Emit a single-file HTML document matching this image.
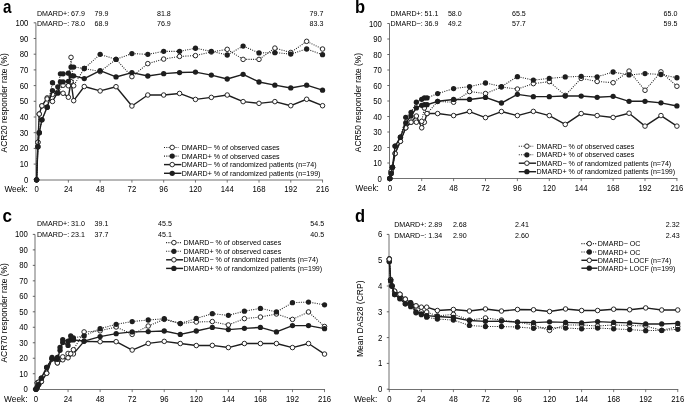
<!DOCTYPE html>
<html><head><meta charset="utf-8"><style>
html,body{margin:0;padding:0;background:#fff;width:685px;height:403px;overflow:hidden}
svg{display:block;font-family:"Liberation Sans", sans-serif;will-change:transform}
</style></head><body>
<svg width="685" height="403" viewBox="0 0 685 403">
<rect width="685" height="403" fill="#fff"/>
<line x1="35.90" y1="22.80" x2="35.90" y2="180.50" stroke="#717171" stroke-width="1.0"/>
<line x1="35.40" y1="180.00" x2="323.04" y2="180.00" stroke="#717171" stroke-width="1.0"/>
<line x1="33.70" y1="179.80" x2="35.90" y2="179.80" stroke="#555" stroke-width="0.9"/>
<text transform="translate(28.30,182.80) scale(0.97,1.18)" font-size="8.0" text-anchor="end" font-weight="normal" fill="#000">0</text>
<line x1="33.70" y1="164.10" x2="35.90" y2="164.10" stroke="#555" stroke-width="0.9"/>
<text transform="translate(28.30,167.10) scale(0.97,1.18)" font-size="8.0" text-anchor="end" font-weight="normal" fill="#000">10</text>
<line x1="33.70" y1="148.40" x2="35.90" y2="148.40" stroke="#555" stroke-width="0.9"/>
<text transform="translate(28.30,151.40) scale(0.97,1.18)" font-size="8.0" text-anchor="end" font-weight="normal" fill="#000">20</text>
<line x1="33.70" y1="132.70" x2="35.90" y2="132.70" stroke="#555" stroke-width="0.9"/>
<text transform="translate(28.30,135.70) scale(0.97,1.18)" font-size="8.0" text-anchor="end" font-weight="normal" fill="#000">30</text>
<line x1="33.70" y1="117.00" x2="35.90" y2="117.00" stroke="#555" stroke-width="0.9"/>
<text transform="translate(28.30,120.00) scale(0.97,1.18)" font-size="8.0" text-anchor="end" font-weight="normal" fill="#000">40</text>
<line x1="33.70" y1="101.30" x2="35.90" y2="101.30" stroke="#555" stroke-width="0.9"/>
<text transform="translate(28.30,104.30) scale(0.97,1.18)" font-size="8.0" text-anchor="end" font-weight="normal" fill="#000">50</text>
<line x1="33.70" y1="85.60" x2="35.90" y2="85.60" stroke="#555" stroke-width="0.9"/>
<text transform="translate(28.30,88.60) scale(0.97,1.18)" font-size="8.0" text-anchor="end" font-weight="normal" fill="#000">60</text>
<line x1="33.70" y1="69.90" x2="35.90" y2="69.90" stroke="#555" stroke-width="0.9"/>
<text transform="translate(28.30,72.90) scale(0.97,1.18)" font-size="8.0" text-anchor="end" font-weight="normal" fill="#000">70</text>
<line x1="33.70" y1="54.20" x2="35.90" y2="54.20" stroke="#555" stroke-width="0.9"/>
<text transform="translate(28.30,57.20) scale(0.97,1.18)" font-size="8.0" text-anchor="end" font-weight="normal" fill="#000">80</text>
<line x1="33.70" y1="38.50" x2="35.90" y2="38.50" stroke="#555" stroke-width="0.9"/>
<text transform="translate(28.30,41.50) scale(0.97,1.18)" font-size="8.0" text-anchor="end" font-weight="normal" fill="#000">90</text>
<line x1="33.70" y1="22.80" x2="35.90" y2="22.80" stroke="#555" stroke-width="0.9"/>
<text transform="translate(28.30,25.80) scale(0.97,1.18)" font-size="8.0" text-anchor="end" font-weight="normal" fill="#000">100</text>
<line x1="36.60" y1="180.00" x2="36.60" y2="182.60" stroke="#555" stroke-width="0.8"/>
<text transform="translate(36.60,192.10) scale(0.97,1.18)" font-size="8.0" text-anchor="middle" font-weight="normal" fill="#000">0</text>
<line x1="68.37" y1="180.00" x2="68.37" y2="182.60" stroke="#555" stroke-width="0.8"/>
<text transform="translate(68.37,192.10) scale(0.97,1.18)" font-size="8.0" text-anchor="middle" font-weight="normal" fill="#000">24</text>
<line x1="100.14" y1="180.00" x2="100.14" y2="182.60" stroke="#555" stroke-width="0.8"/>
<text transform="translate(100.14,192.10) scale(0.97,1.18)" font-size="8.0" text-anchor="middle" font-weight="normal" fill="#000">48</text>
<line x1="131.91" y1="180.00" x2="131.91" y2="182.60" stroke="#555" stroke-width="0.8"/>
<text transform="translate(131.91,192.10) scale(0.97,1.18)" font-size="8.0" text-anchor="middle" font-weight="normal" fill="#000">72</text>
<line x1="163.68" y1="180.00" x2="163.68" y2="182.60" stroke="#555" stroke-width="0.8"/>
<text transform="translate(163.68,192.10) scale(0.97,1.18)" font-size="8.0" text-anchor="middle" font-weight="normal" fill="#000">96</text>
<line x1="195.46" y1="180.00" x2="195.46" y2="182.60" stroke="#555" stroke-width="0.8"/>
<text transform="translate(195.46,192.10) scale(0.97,1.18)" font-size="8.0" text-anchor="middle" font-weight="normal" fill="#000">120</text>
<line x1="227.23" y1="180.00" x2="227.23" y2="182.60" stroke="#555" stroke-width="0.8"/>
<text transform="translate(227.23,192.10) scale(0.97,1.18)" font-size="8.0" text-anchor="middle" font-weight="normal" fill="#000">144</text>
<line x1="259.00" y1="180.00" x2="259.00" y2="182.60" stroke="#555" stroke-width="0.8"/>
<text transform="translate(259.00,192.10) scale(0.97,1.18)" font-size="8.0" text-anchor="middle" font-weight="normal" fill="#000">168</text>
<line x1="290.77" y1="180.00" x2="290.77" y2="182.60" stroke="#555" stroke-width="0.8"/>
<text transform="translate(290.77,192.10) scale(0.97,1.18)" font-size="8.0" text-anchor="middle" font-weight="normal" fill="#000">192</text>
<line x1="322.54" y1="180.00" x2="322.54" y2="182.60" stroke="#555" stroke-width="0.8"/>
<text transform="translate(322.54,192.10) scale(0.97,1.18)" font-size="8.0" text-anchor="middle" font-weight="normal" fill="#000">216</text>
<text transform="translate(4.40,192.10) scale(1.04,1.18)" font-size="8.0" text-anchor="start" font-weight="normal" fill="#000">Week:</text>
<text x="0" y="0" font-size="8.4" text-anchor="middle" fill="#000" transform="translate(7.30,102.80) rotate(-90)">ACR20 responder rate (%)</text>
<line x1="389.50" y1="23.50" x2="389.50" y2="179.00" stroke="#717171" stroke-width="1.0"/>
<line x1="389.00" y1="178.50" x2="677.41" y2="178.50" stroke="#717171" stroke-width="1.0"/>
<line x1="387.30" y1="178.50" x2="389.50" y2="178.50" stroke="#555" stroke-width="0.9"/>
<text transform="translate(381.80,181.50) scale(0.97,1.18)" font-size="8.0" text-anchor="end" font-weight="normal" fill="#000">0</text>
<line x1="387.30" y1="163.00" x2="389.50" y2="163.00" stroke="#555" stroke-width="0.9"/>
<text transform="translate(381.80,166.00) scale(0.97,1.18)" font-size="8.0" text-anchor="end" font-weight="normal" fill="#000">10</text>
<line x1="387.30" y1="147.50" x2="389.50" y2="147.50" stroke="#555" stroke-width="0.9"/>
<text transform="translate(381.80,150.50) scale(0.97,1.18)" font-size="8.0" text-anchor="end" font-weight="normal" fill="#000">20</text>
<line x1="387.30" y1="132.00" x2="389.50" y2="132.00" stroke="#555" stroke-width="0.9"/>
<text transform="translate(381.80,135.00) scale(0.97,1.18)" font-size="8.0" text-anchor="end" font-weight="normal" fill="#000">30</text>
<line x1="387.30" y1="116.50" x2="389.50" y2="116.50" stroke="#555" stroke-width="0.9"/>
<text transform="translate(381.80,119.50) scale(0.97,1.18)" font-size="8.0" text-anchor="end" font-weight="normal" fill="#000">40</text>
<line x1="387.30" y1="101.00" x2="389.50" y2="101.00" stroke="#555" stroke-width="0.9"/>
<text transform="translate(381.80,104.00) scale(0.97,1.18)" font-size="8.0" text-anchor="end" font-weight="normal" fill="#000">50</text>
<line x1="387.30" y1="85.50" x2="389.50" y2="85.50" stroke="#555" stroke-width="0.9"/>
<text transform="translate(381.80,88.50) scale(0.97,1.18)" font-size="8.0" text-anchor="end" font-weight="normal" fill="#000">60</text>
<line x1="387.30" y1="70.00" x2="389.50" y2="70.00" stroke="#555" stroke-width="0.9"/>
<text transform="translate(381.80,73.00) scale(0.97,1.18)" font-size="8.0" text-anchor="end" font-weight="normal" fill="#000">70</text>
<line x1="387.30" y1="54.50" x2="389.50" y2="54.50" stroke="#555" stroke-width="0.9"/>
<text transform="translate(381.80,57.50) scale(0.97,1.18)" font-size="8.0" text-anchor="end" font-weight="normal" fill="#000">80</text>
<line x1="387.30" y1="39.00" x2="389.50" y2="39.00" stroke="#555" stroke-width="0.9"/>
<text transform="translate(381.80,42.00) scale(0.97,1.18)" font-size="8.0" text-anchor="end" font-weight="normal" fill="#000">90</text>
<line x1="387.30" y1="23.50" x2="389.50" y2="23.50" stroke="#555" stroke-width="0.9"/>
<text transform="translate(381.80,26.50) scale(0.97,1.18)" font-size="8.0" text-anchor="end" font-weight="normal" fill="#000">100</text>
<line x1="389.80" y1="178.50" x2="389.80" y2="181.10" stroke="#555" stroke-width="0.8"/>
<text transform="translate(389.80,191.00) scale(0.97,1.18)" font-size="8.0" text-anchor="middle" font-weight="normal" fill="#000">0</text>
<line x1="421.70" y1="178.50" x2="421.70" y2="181.10" stroke="#555" stroke-width="0.8"/>
<text transform="translate(421.70,191.00) scale(0.97,1.18)" font-size="8.0" text-anchor="middle" font-weight="normal" fill="#000">24</text>
<line x1="453.60" y1="178.50" x2="453.60" y2="181.10" stroke="#555" stroke-width="0.8"/>
<text transform="translate(453.60,191.00) scale(0.97,1.18)" font-size="8.0" text-anchor="middle" font-weight="normal" fill="#000">48</text>
<line x1="485.50" y1="178.50" x2="485.50" y2="181.10" stroke="#555" stroke-width="0.8"/>
<text transform="translate(485.50,191.00) scale(0.97,1.18)" font-size="8.0" text-anchor="middle" font-weight="normal" fill="#000">72</text>
<line x1="517.40" y1="178.50" x2="517.40" y2="181.10" stroke="#555" stroke-width="0.8"/>
<text transform="translate(517.40,191.00) scale(0.97,1.18)" font-size="8.0" text-anchor="middle" font-weight="normal" fill="#000">96</text>
<line x1="549.30" y1="178.50" x2="549.30" y2="181.10" stroke="#555" stroke-width="0.8"/>
<text transform="translate(549.30,191.00) scale(0.97,1.18)" font-size="8.0" text-anchor="middle" font-weight="normal" fill="#000">120</text>
<line x1="581.20" y1="178.50" x2="581.20" y2="181.10" stroke="#555" stroke-width="0.8"/>
<text transform="translate(581.20,191.00) scale(0.97,1.18)" font-size="8.0" text-anchor="middle" font-weight="normal" fill="#000">144</text>
<line x1="613.11" y1="178.50" x2="613.11" y2="181.10" stroke="#555" stroke-width="0.8"/>
<text transform="translate(613.11,191.00) scale(0.97,1.18)" font-size="8.0" text-anchor="middle" font-weight="normal" fill="#000">168</text>
<line x1="645.01" y1="178.50" x2="645.01" y2="181.10" stroke="#555" stroke-width="0.8"/>
<text transform="translate(645.01,191.00) scale(0.97,1.18)" font-size="8.0" text-anchor="middle" font-weight="normal" fill="#000">192</text>
<line x1="676.91" y1="178.50" x2="676.91" y2="181.10" stroke="#555" stroke-width="0.8"/>
<text transform="translate(676.91,191.00) scale(0.97,1.18)" font-size="8.0" text-anchor="middle" font-weight="normal" fill="#000">216</text>
<text transform="translate(355.50,191.00) scale(1.04,1.18)" font-size="8.0" text-anchor="start" font-weight="normal" fill="#000">Week:</text>
<text x="0" y="0" font-size="8.4" text-anchor="middle" fill="#000" transform="translate(361.20,102.60) rotate(-90)">ACR50 responder rate (%)</text>
<line x1="35.00" y1="234.40" x2="35.00" y2="390.00" stroke="#717171" stroke-width="1.0"/>
<line x1="34.50" y1="389.50" x2="325.03" y2="389.50" stroke="#717171" stroke-width="1.0"/>
<line x1="32.80" y1="389.20" x2="35.00" y2="389.20" stroke="#555" stroke-width="0.9"/>
<text transform="translate(27.90,392.20) scale(0.97,1.18)" font-size="8.0" text-anchor="end" font-weight="normal" fill="#000">0</text>
<line x1="32.80" y1="373.72" x2="35.00" y2="373.72" stroke="#555" stroke-width="0.9"/>
<text transform="translate(27.90,376.72) scale(0.97,1.18)" font-size="8.0" text-anchor="end" font-weight="normal" fill="#000">10</text>
<line x1="32.80" y1="358.24" x2="35.00" y2="358.24" stroke="#555" stroke-width="0.9"/>
<text transform="translate(27.90,361.24) scale(0.97,1.18)" font-size="8.0" text-anchor="end" font-weight="normal" fill="#000">20</text>
<line x1="32.80" y1="342.76" x2="35.00" y2="342.76" stroke="#555" stroke-width="0.9"/>
<text transform="translate(27.90,345.76) scale(0.97,1.18)" font-size="8.0" text-anchor="end" font-weight="normal" fill="#000">30</text>
<line x1="32.80" y1="327.28" x2="35.00" y2="327.28" stroke="#555" stroke-width="0.9"/>
<text transform="translate(27.90,330.28) scale(0.97,1.18)" font-size="8.0" text-anchor="end" font-weight="normal" fill="#000">40</text>
<line x1="32.80" y1="311.80" x2="35.00" y2="311.80" stroke="#555" stroke-width="0.9"/>
<text transform="translate(27.90,314.80) scale(0.97,1.18)" font-size="8.0" text-anchor="end" font-weight="normal" fill="#000">50</text>
<line x1="32.80" y1="296.32" x2="35.00" y2="296.32" stroke="#555" stroke-width="0.9"/>
<text transform="translate(27.90,299.32) scale(0.97,1.18)" font-size="8.0" text-anchor="end" font-weight="normal" fill="#000">60</text>
<line x1="32.80" y1="280.84" x2="35.00" y2="280.84" stroke="#555" stroke-width="0.9"/>
<text transform="translate(27.90,283.84) scale(0.97,1.18)" font-size="8.0" text-anchor="end" font-weight="normal" fill="#000">70</text>
<line x1="32.80" y1="265.36" x2="35.00" y2="265.36" stroke="#555" stroke-width="0.9"/>
<text transform="translate(27.90,268.36) scale(0.97,1.18)" font-size="8.0" text-anchor="end" font-weight="normal" fill="#000">80</text>
<line x1="32.80" y1="249.88" x2="35.00" y2="249.88" stroke="#555" stroke-width="0.9"/>
<text transform="translate(27.90,252.88) scale(0.97,1.18)" font-size="8.0" text-anchor="end" font-weight="normal" fill="#000">90</text>
<line x1="32.80" y1="234.40" x2="35.00" y2="234.40" stroke="#555" stroke-width="0.9"/>
<text transform="translate(27.90,237.40) scale(0.97,1.18)" font-size="8.0" text-anchor="end" font-weight="normal" fill="#000">100</text>
<line x1="36.00" y1="389.50" x2="36.00" y2="392.10" stroke="#555" stroke-width="0.8"/>
<text transform="translate(36.00,401.80) scale(0.97,1.18)" font-size="8.0" text-anchor="middle" font-weight="normal" fill="#000">0</text>
<line x1="68.06" y1="389.50" x2="68.06" y2="392.10" stroke="#555" stroke-width="0.8"/>
<text transform="translate(68.06,401.80) scale(0.97,1.18)" font-size="8.0" text-anchor="middle" font-weight="normal" fill="#000">24</text>
<line x1="100.12" y1="389.50" x2="100.12" y2="392.10" stroke="#555" stroke-width="0.8"/>
<text transform="translate(100.12,401.80) scale(0.97,1.18)" font-size="8.0" text-anchor="middle" font-weight="normal" fill="#000">48</text>
<line x1="132.18" y1="389.50" x2="132.18" y2="392.10" stroke="#555" stroke-width="0.8"/>
<text transform="translate(132.18,401.80) scale(0.97,1.18)" font-size="8.0" text-anchor="middle" font-weight="normal" fill="#000">72</text>
<line x1="164.24" y1="389.50" x2="164.24" y2="392.10" stroke="#555" stroke-width="0.8"/>
<text transform="translate(164.24,401.80) scale(0.97,1.18)" font-size="8.0" text-anchor="middle" font-weight="normal" fill="#000">96</text>
<line x1="196.30" y1="389.50" x2="196.30" y2="392.10" stroke="#555" stroke-width="0.8"/>
<text transform="translate(196.30,401.80) scale(0.97,1.18)" font-size="8.0" text-anchor="middle" font-weight="normal" fill="#000">120</text>
<line x1="228.36" y1="389.50" x2="228.36" y2="392.10" stroke="#555" stroke-width="0.8"/>
<text transform="translate(228.36,401.80) scale(0.97,1.18)" font-size="8.0" text-anchor="middle" font-weight="normal" fill="#000">144</text>
<line x1="260.41" y1="389.50" x2="260.41" y2="392.10" stroke="#555" stroke-width="0.8"/>
<text transform="translate(260.41,401.80) scale(0.97,1.18)" font-size="8.0" text-anchor="middle" font-weight="normal" fill="#000">168</text>
<line x1="292.47" y1="389.50" x2="292.47" y2="392.10" stroke="#555" stroke-width="0.8"/>
<text transform="translate(292.47,401.80) scale(0.97,1.18)" font-size="8.0" text-anchor="middle" font-weight="normal" fill="#000">192</text>
<line x1="324.53" y1="389.50" x2="324.53" y2="392.10" stroke="#555" stroke-width="0.8"/>
<text transform="translate(324.53,401.80) scale(0.97,1.18)" font-size="8.0" text-anchor="middle" font-weight="normal" fill="#000">216</text>
<text transform="translate(4.10,401.80) scale(1.04,1.18)" font-size="8.0" text-anchor="start" font-weight="normal" fill="#000">Week:</text>
<text x="0" y="0" font-size="8.4" text-anchor="middle" fill="#000" transform="translate(7.10,312.90) rotate(-90)">ACR70 responder rate (%)</text>
<line x1="389.00" y1="234.40" x2="389.00" y2="390.00" stroke="#717171" stroke-width="1.0"/>
<line x1="388.50" y1="389.50" x2="678.25" y2="389.50" stroke="#717171" stroke-width="1.0"/>
<line x1="386.80" y1="389.20" x2="389.00" y2="389.20" stroke="#555" stroke-width="0.9"/>
<text transform="translate(382.30,392.20) scale(0.97,1.18)" font-size="8.0" text-anchor="end" font-weight="normal" fill="#000">0</text>
<line x1="386.80" y1="363.40" x2="389.00" y2="363.40" stroke="#555" stroke-width="0.9"/>
<text transform="translate(382.30,366.40) scale(0.97,1.18)" font-size="8.0" text-anchor="end" font-weight="normal" fill="#000">1</text>
<line x1="386.80" y1="337.60" x2="389.00" y2="337.60" stroke="#555" stroke-width="0.9"/>
<text transform="translate(382.30,340.60) scale(0.97,1.18)" font-size="8.0" text-anchor="end" font-weight="normal" fill="#000">2</text>
<line x1="386.80" y1="311.80" x2="389.00" y2="311.80" stroke="#555" stroke-width="0.9"/>
<text transform="translate(382.30,314.80) scale(0.97,1.18)" font-size="8.0" text-anchor="end" font-weight="normal" fill="#000">3</text>
<line x1="386.80" y1="286.00" x2="389.00" y2="286.00" stroke="#555" stroke-width="0.9"/>
<text transform="translate(382.30,289.00) scale(0.97,1.18)" font-size="8.0" text-anchor="end" font-weight="normal" fill="#000">4</text>
<line x1="386.80" y1="260.20" x2="389.00" y2="260.20" stroke="#555" stroke-width="0.9"/>
<text transform="translate(382.30,263.20) scale(0.97,1.18)" font-size="8.0" text-anchor="end" font-weight="normal" fill="#000">5</text>
<line x1="386.80" y1="234.40" x2="389.00" y2="234.40" stroke="#555" stroke-width="0.9"/>
<text transform="translate(382.30,237.40) scale(0.97,1.18)" font-size="8.0" text-anchor="end" font-weight="normal" fill="#000">6</text>
<line x1="389.30" y1="389.50" x2="389.30" y2="392.10" stroke="#555" stroke-width="0.8"/>
<text transform="translate(389.30,401.80) scale(0.97,1.18)" font-size="8.0" text-anchor="middle" font-weight="normal" fill="#000">0</text>
<line x1="421.35" y1="389.50" x2="421.35" y2="392.10" stroke="#555" stroke-width="0.8"/>
<text transform="translate(421.35,401.80) scale(0.97,1.18)" font-size="8.0" text-anchor="middle" font-weight="normal" fill="#000">24</text>
<line x1="453.40" y1="389.50" x2="453.40" y2="392.10" stroke="#555" stroke-width="0.8"/>
<text transform="translate(453.40,401.80) scale(0.97,1.18)" font-size="8.0" text-anchor="middle" font-weight="normal" fill="#000">48</text>
<line x1="485.45" y1="389.50" x2="485.45" y2="392.10" stroke="#555" stroke-width="0.8"/>
<text transform="translate(485.45,401.80) scale(0.97,1.18)" font-size="8.0" text-anchor="middle" font-weight="normal" fill="#000">72</text>
<line x1="517.50" y1="389.50" x2="517.50" y2="392.10" stroke="#555" stroke-width="0.8"/>
<text transform="translate(517.50,401.80) scale(0.97,1.18)" font-size="8.0" text-anchor="middle" font-weight="normal" fill="#000">96</text>
<line x1="549.55" y1="389.50" x2="549.55" y2="392.10" stroke="#555" stroke-width="0.8"/>
<text transform="translate(549.55,401.80) scale(0.97,1.18)" font-size="8.0" text-anchor="middle" font-weight="normal" fill="#000">120</text>
<line x1="581.60" y1="389.50" x2="581.60" y2="392.10" stroke="#555" stroke-width="0.8"/>
<text transform="translate(581.60,401.80) scale(0.97,1.18)" font-size="8.0" text-anchor="middle" font-weight="normal" fill="#000">144</text>
<line x1="613.65" y1="389.50" x2="613.65" y2="392.10" stroke="#555" stroke-width="0.8"/>
<text transform="translate(613.65,401.80) scale(0.97,1.18)" font-size="8.0" text-anchor="middle" font-weight="normal" fill="#000">168</text>
<line x1="645.70" y1="389.50" x2="645.70" y2="392.10" stroke="#555" stroke-width="0.8"/>
<text transform="translate(645.70,401.80) scale(0.97,1.18)" font-size="8.0" text-anchor="middle" font-weight="normal" fill="#000">192</text>
<line x1="677.75" y1="389.50" x2="677.75" y2="392.10" stroke="#555" stroke-width="0.8"/>
<text transform="translate(677.75,401.80) scale(0.97,1.18)" font-size="8.0" text-anchor="middle" font-weight="normal" fill="#000">216</text>
<text transform="translate(353.90,401.80) scale(1.04,1.18)" font-size="8.0" text-anchor="start" font-weight="normal" fill="#000">Week:</text>
<text x="0" y="0" font-size="8.5" text-anchor="middle" fill="#000" transform="translate(362.80,318.80) rotate(-90)">Mean DAS28 (CRP)</text>
<text transform="translate(3.00,12.70) scale(0.98,1.2)" font-size="15.5" text-anchor="start" font-weight="bold" fill="#000">a</text>
<text transform="translate(355.00,12.60) scale(1.0,1.1)" font-size="16.5" text-anchor="start" font-weight="bold" fill="#000">b</text>
<text transform="translate(2.60,221.60) scale(1.1,1.2)" font-size="15.5" text-anchor="start" font-weight="bold" fill="#000">c</text>
<text transform="translate(355.00,221.60) scale(1.0,1.1)" font-size="16.5" text-anchor="start" font-weight="bold" fill="#000">d</text>
<text x="37.00" y="16.00" font-size="7.1" text-anchor="start" font-weight="normal" fill="#000">DMARD+: 67.9</text>
<text x="94.60" y="16.00" font-size="7.1" text-anchor="start" font-weight="normal" fill="#000">79.9</text>
<text x="157.00" y="16.00" font-size="7.1" text-anchor="start" font-weight="normal" fill="#000">81.8</text>
<text x="309.60" y="16.00" font-size="7.1" text-anchor="start" font-weight="normal" fill="#000">79.7</text>
<text x="37.00" y="26.20" font-size="7.1" text-anchor="start" font-weight="normal" fill="#000">DMARD−: 78.0</text>
<text x="94.60" y="26.20" font-size="7.1" text-anchor="start" font-weight="normal" fill="#000">68.9</text>
<text x="157.00" y="26.20" font-size="7.1" text-anchor="start" font-weight="normal" fill="#000">76.9</text>
<text x="309.60" y="26.20" font-size="7.1" text-anchor="start" font-weight="normal" fill="#000">83.3</text>
<text x="390.50" y="16.00" font-size="7.1" text-anchor="start" font-weight="normal" fill="#000">DMARD+: 51.1</text>
<text x="447.90" y="16.00" font-size="7.1" text-anchor="start" font-weight="normal" fill="#000">58.0</text>
<text x="512.00" y="16.00" font-size="7.1" text-anchor="start" font-weight="normal" fill="#000">65.5</text>
<text x="663.60" y="16.00" font-size="7.1" text-anchor="start" font-weight="normal" fill="#000">65.0</text>
<text x="390.50" y="26.20" font-size="7.1" text-anchor="start" font-weight="normal" fill="#000">DMARD−: 36.9</text>
<text x="447.90" y="26.20" font-size="7.1" text-anchor="start" font-weight="normal" fill="#000">49.2</text>
<text x="512.00" y="26.20" font-size="7.1" text-anchor="start" font-weight="normal" fill="#000">57.7</text>
<text x="663.60" y="26.20" font-size="7.1" text-anchor="start" font-weight="normal" fill="#000">59.5</text>
<text x="37.00" y="226.40" font-size="7.1" text-anchor="start" font-weight="normal" fill="#000">DMARD+: 31.0</text>
<text x="94.60" y="226.40" font-size="7.1" text-anchor="start" font-weight="normal" fill="#000">39.1</text>
<text x="158.10" y="226.40" font-size="7.1" text-anchor="start" font-weight="normal" fill="#000">45.5</text>
<text x="310.30" y="226.40" font-size="7.1" text-anchor="start" font-weight="normal" fill="#000">54.5</text>
<text x="37.00" y="236.90" font-size="7.1" text-anchor="start" font-weight="normal" fill="#000">DMARD−: 23.1</text>
<text x="94.60" y="236.90" font-size="7.1" text-anchor="start" font-weight="normal" fill="#000">37.7</text>
<text x="158.10" y="236.90" font-size="7.1" text-anchor="start" font-weight="normal" fill="#000">45.1</text>
<text x="310.30" y="236.90" font-size="7.1" text-anchor="start" font-weight="normal" fill="#000">40.5</text>
<text x="394.20" y="227.00" font-size="7.1" text-anchor="start" font-weight="normal" fill="#000">DMARD+: 2.89</text>
<text x="452.90" y="227.00" font-size="7.1" text-anchor="start" font-weight="normal" fill="#000">2.68</text>
<text x="515.10" y="227.00" font-size="7.1" text-anchor="start" font-weight="normal" fill="#000">2.41</text>
<text x="665.80" y="227.00" font-size="7.1" text-anchor="start" font-weight="normal" fill="#000">2.32</text>
<text x="394.20" y="237.60" font-size="7.1" text-anchor="start" font-weight="normal" fill="#000">DMARD−: 1.34</text>
<text x="452.90" y="237.60" font-size="7.1" text-anchor="start" font-weight="normal" fill="#000">2.90</text>
<text x="515.10" y="237.60" font-size="7.1" text-anchor="start" font-weight="normal" fill="#000">2.60</text>
<text x="665.80" y="237.60" font-size="7.1" text-anchor="start" font-weight="normal" fill="#000">2.43</text>
<polyline points="36.60,179.80 37.92,142.28 39.25,114.02 41.90,105.85 47.19,97.85 52.49,101.46 57.78,92.19 63.08,93.29 68.37,97.22 71.02,81.68 73.67,100.67 84.26,86.54 100.14,90.94 116.03,86.70 131.91,106.01 147.80,95.02 163.68,95.02 179.57,93.45 195.46,99.42 211.34,97.38 227.23,95.02 243.11,101.61 259.00,103.34 274.88,101.61 290.77,105.70 306.66,99.26 322.54,105.70" fill="none" stroke="#1e1e1e" stroke-width="1.4" stroke-linejoin="round"/>
<circle cx="36.60" cy="179.80" r="2.27" fill="#fff" stroke="#1e1e1e" stroke-width="0.95"/>
<circle cx="37.92" cy="142.28" r="2.27" fill="#fff" stroke="#1e1e1e" stroke-width="0.95"/>
<circle cx="39.25" cy="114.02" r="2.27" fill="#fff" stroke="#1e1e1e" stroke-width="0.95"/>
<circle cx="41.90" cy="105.85" r="2.27" fill="#fff" stroke="#1e1e1e" stroke-width="0.95"/>
<circle cx="47.19" cy="97.85" r="2.27" fill="#fff" stroke="#1e1e1e" stroke-width="0.95"/>
<circle cx="52.49" cy="101.46" r="2.27" fill="#fff" stroke="#1e1e1e" stroke-width="0.95"/>
<circle cx="57.78" cy="92.19" r="2.27" fill="#fff" stroke="#1e1e1e" stroke-width="0.95"/>
<circle cx="63.08" cy="93.29" r="2.27" fill="#fff" stroke="#1e1e1e" stroke-width="0.95"/>
<circle cx="68.37" cy="97.22" r="2.27" fill="#fff" stroke="#1e1e1e" stroke-width="0.95"/>
<circle cx="71.02" cy="81.68" r="2.27" fill="#fff" stroke="#1e1e1e" stroke-width="0.95"/>
<circle cx="73.67" cy="100.67" r="2.27" fill="#fff" stroke="#1e1e1e" stroke-width="0.95"/>
<circle cx="84.26" cy="86.54" r="2.27" fill="#fff" stroke="#1e1e1e" stroke-width="0.95"/>
<circle cx="100.14" cy="90.94" r="2.27" fill="#fff" stroke="#1e1e1e" stroke-width="0.95"/>
<circle cx="116.03" cy="86.70" r="2.27" fill="#fff" stroke="#1e1e1e" stroke-width="0.95"/>
<circle cx="131.91" cy="106.01" r="2.27" fill="#fff" stroke="#1e1e1e" stroke-width="0.95"/>
<circle cx="147.80" cy="95.02" r="2.27" fill="#fff" stroke="#1e1e1e" stroke-width="0.95"/>
<circle cx="163.68" cy="95.02" r="2.27" fill="#fff" stroke="#1e1e1e" stroke-width="0.95"/>
<circle cx="179.57" cy="93.45" r="2.27" fill="#fff" stroke="#1e1e1e" stroke-width="0.95"/>
<circle cx="195.46" cy="99.42" r="2.27" fill="#fff" stroke="#1e1e1e" stroke-width="0.95"/>
<circle cx="211.34" cy="97.38" r="2.27" fill="#fff" stroke="#1e1e1e" stroke-width="0.95"/>
<circle cx="227.23" cy="95.02" r="2.27" fill="#fff" stroke="#1e1e1e" stroke-width="0.95"/>
<circle cx="243.11" cy="101.61" r="2.27" fill="#fff" stroke="#1e1e1e" stroke-width="0.95"/>
<circle cx="259.00" cy="103.34" r="2.27" fill="#fff" stroke="#1e1e1e" stroke-width="0.95"/>
<circle cx="274.88" cy="101.61" r="2.27" fill="#fff" stroke="#1e1e1e" stroke-width="0.95"/>
<circle cx="290.77" cy="105.70" r="2.27" fill="#fff" stroke="#1e1e1e" stroke-width="0.95"/>
<circle cx="306.66" cy="99.26" r="2.27" fill="#fff" stroke="#1e1e1e" stroke-width="0.95"/>
<circle cx="322.54" cy="105.70" r="2.27" fill="#fff" stroke="#1e1e1e" stroke-width="0.95"/>
<polyline points="36.60,179.80 37.92,142.28 39.25,114.02 41.90,105.85 47.19,98.95 52.49,94.39 57.78,92.19 63.08,85.29 68.37,85.76 71.02,57.34 73.67,85.76 84.26,68.49 100.14,71.63 116.03,59.38 131.91,76.65 147.80,63.62 163.68,59.07 179.57,56.40 195.46,55.61 211.34,52.00 227.23,49.33 243.11,59.38 259.00,59.38 274.88,48.08 290.77,52.47 306.66,41.33 322.54,49.02" fill="none" stroke="#1e1e1e" stroke-width="1.05" stroke-dasharray="1 1.3"/>
<circle cx="36.60" cy="179.80" r="2.27" fill="#fff" stroke="#1e1e1e" stroke-width="0.95"/>
<circle cx="37.92" cy="142.28" r="2.27" fill="#fff" stroke="#1e1e1e" stroke-width="0.95"/>
<circle cx="39.25" cy="114.02" r="2.27" fill="#fff" stroke="#1e1e1e" stroke-width="0.95"/>
<circle cx="41.90" cy="105.85" r="2.27" fill="#fff" stroke="#1e1e1e" stroke-width="0.95"/>
<circle cx="47.19" cy="98.95" r="2.27" fill="#fff" stroke="#1e1e1e" stroke-width="0.95"/>
<circle cx="52.49" cy="94.39" r="2.27" fill="#fff" stroke="#1e1e1e" stroke-width="0.95"/>
<circle cx="57.78" cy="92.19" r="2.27" fill="#fff" stroke="#1e1e1e" stroke-width="0.95"/>
<circle cx="63.08" cy="85.29" r="2.27" fill="#fff" stroke="#1e1e1e" stroke-width="0.95"/>
<circle cx="68.37" cy="85.76" r="2.27" fill="#fff" stroke="#1e1e1e" stroke-width="0.95"/>
<circle cx="71.02" cy="57.34" r="2.27" fill="#fff" stroke="#1e1e1e" stroke-width="0.95"/>
<circle cx="73.67" cy="85.76" r="2.27" fill="#fff" stroke="#1e1e1e" stroke-width="0.95"/>
<circle cx="84.26" cy="68.49" r="2.27" fill="#fff" stroke="#1e1e1e" stroke-width="0.95"/>
<circle cx="100.14" cy="71.63" r="2.27" fill="#fff" stroke="#1e1e1e" stroke-width="0.95"/>
<circle cx="116.03" cy="59.38" r="2.27" fill="#fff" stroke="#1e1e1e" stroke-width="0.95"/>
<circle cx="131.91" cy="76.65" r="2.27" fill="#fff" stroke="#1e1e1e" stroke-width="0.95"/>
<circle cx="147.80" cy="63.62" r="2.27" fill="#fff" stroke="#1e1e1e" stroke-width="0.95"/>
<circle cx="163.68" cy="59.07" r="2.27" fill="#fff" stroke="#1e1e1e" stroke-width="0.95"/>
<circle cx="179.57" cy="56.40" r="2.27" fill="#fff" stroke="#1e1e1e" stroke-width="0.95"/>
<circle cx="195.46" cy="55.61" r="2.27" fill="#fff" stroke="#1e1e1e" stroke-width="0.95"/>
<circle cx="211.34" cy="52.00" r="2.27" fill="#fff" stroke="#1e1e1e" stroke-width="0.95"/>
<circle cx="227.23" cy="49.33" r="2.27" fill="#fff" stroke="#1e1e1e" stroke-width="0.95"/>
<circle cx="243.11" cy="59.38" r="2.27" fill="#fff" stroke="#1e1e1e" stroke-width="0.95"/>
<circle cx="259.00" cy="59.38" r="2.27" fill="#fff" stroke="#1e1e1e" stroke-width="0.95"/>
<circle cx="274.88" cy="48.08" r="2.27" fill="#fff" stroke="#1e1e1e" stroke-width="0.95"/>
<circle cx="290.77" cy="52.47" r="2.27" fill="#fff" stroke="#1e1e1e" stroke-width="0.95"/>
<circle cx="306.66" cy="41.33" r="2.27" fill="#fff" stroke="#1e1e1e" stroke-width="0.95"/>
<circle cx="322.54" cy="49.02" r="2.27" fill="#fff" stroke="#1e1e1e" stroke-width="0.95"/>
<polyline points="36.60,179.80 37.92,146.67 39.25,132.70 41.90,119.83 47.19,107.27 52.49,90.62 57.78,93.14 60.43,81.83 63.08,81.83 68.37,81.36 71.02,75.87 73.67,75.87 84.26,78.54 100.14,70.53 116.03,76.97 131.91,72.57 147.80,76.02 163.68,73.67 179.57,72.57 195.46,72.10 211.34,75.08 227.23,79.01 243.11,74.30 259.00,81.99 274.88,85.13 290.77,87.96 306.66,85.13 322.54,90.15" fill="none" stroke="#1e1e1e" stroke-width="1.4" stroke-linejoin="round"/>
<circle cx="36.60" cy="179.80" r="2.65" fill="#1e1e1e"/>
<circle cx="37.92" cy="146.67" r="2.65" fill="#1e1e1e"/>
<circle cx="39.25" cy="132.70" r="2.65" fill="#1e1e1e"/>
<circle cx="41.90" cy="119.83" r="2.65" fill="#1e1e1e"/>
<circle cx="47.19" cy="107.27" r="2.65" fill="#1e1e1e"/>
<circle cx="52.49" cy="90.62" r="2.65" fill="#1e1e1e"/>
<circle cx="57.78" cy="93.14" r="2.65" fill="#1e1e1e"/>
<circle cx="60.43" cy="81.83" r="2.65" fill="#1e1e1e"/>
<circle cx="63.08" cy="81.83" r="2.65" fill="#1e1e1e"/>
<circle cx="68.37" cy="81.36" r="2.65" fill="#1e1e1e"/>
<circle cx="71.02" cy="75.87" r="2.65" fill="#1e1e1e"/>
<circle cx="73.67" cy="75.87" r="2.65" fill="#1e1e1e"/>
<circle cx="84.26" cy="78.54" r="2.65" fill="#1e1e1e"/>
<circle cx="100.14" cy="70.53" r="2.65" fill="#1e1e1e"/>
<circle cx="116.03" cy="76.97" r="2.65" fill="#1e1e1e"/>
<circle cx="131.91" cy="72.57" r="2.65" fill="#1e1e1e"/>
<circle cx="147.80" cy="76.02" r="2.65" fill="#1e1e1e"/>
<circle cx="163.68" cy="73.67" r="2.65" fill="#1e1e1e"/>
<circle cx="179.57" cy="72.57" r="2.65" fill="#1e1e1e"/>
<circle cx="195.46" cy="72.10" r="2.65" fill="#1e1e1e"/>
<circle cx="211.34" cy="75.08" r="2.65" fill="#1e1e1e"/>
<circle cx="227.23" cy="79.01" r="2.65" fill="#1e1e1e"/>
<circle cx="243.11" cy="74.30" r="2.65" fill="#1e1e1e"/>
<circle cx="259.00" cy="81.99" r="2.65" fill="#1e1e1e"/>
<circle cx="274.88" cy="85.13" r="2.65" fill="#1e1e1e"/>
<circle cx="290.77" cy="87.96" r="2.65" fill="#1e1e1e"/>
<circle cx="306.66" cy="85.13" r="2.65" fill="#1e1e1e"/>
<circle cx="322.54" cy="90.15" r="2.65" fill="#1e1e1e"/>
<polyline points="36.60,179.80 37.92,146.67 39.25,132.70 41.90,119.83 47.19,107.27 52.49,82.77 57.78,86.86 60.43,73.83 63.08,73.83 68.37,73.20 71.02,67.07 73.67,67.07 84.26,68.49 100.14,54.36 116.03,59.38 131.91,53.57 147.80,54.36 163.68,51.37 179.57,51.37 195.46,48.23 211.34,51.37 227.23,54.98 243.11,46.04 259.00,52.94 274.88,52.63 290.77,54.04 306.66,49.02 322.54,54.67" fill="none" stroke="#1e1e1e" stroke-width="1.05" stroke-dasharray="1 1.3"/>
<circle cx="36.60" cy="179.80" r="2.65" fill="#1e1e1e"/>
<circle cx="37.92" cy="146.67" r="2.65" fill="#1e1e1e"/>
<circle cx="39.25" cy="132.70" r="2.65" fill="#1e1e1e"/>
<circle cx="41.90" cy="119.83" r="2.65" fill="#1e1e1e"/>
<circle cx="47.19" cy="107.27" r="2.65" fill="#1e1e1e"/>
<circle cx="52.49" cy="82.77" r="2.65" fill="#1e1e1e"/>
<circle cx="57.78" cy="86.86" r="2.65" fill="#1e1e1e"/>
<circle cx="60.43" cy="73.83" r="2.65" fill="#1e1e1e"/>
<circle cx="63.08" cy="73.83" r="2.65" fill="#1e1e1e"/>
<circle cx="68.37" cy="73.20" r="2.65" fill="#1e1e1e"/>
<circle cx="71.02" cy="67.07" r="2.65" fill="#1e1e1e"/>
<circle cx="73.67" cy="67.07" r="2.65" fill="#1e1e1e"/>
<circle cx="84.26" cy="68.49" r="2.65" fill="#1e1e1e"/>
<circle cx="100.14" cy="54.36" r="2.65" fill="#1e1e1e"/>
<circle cx="116.03" cy="59.38" r="2.65" fill="#1e1e1e"/>
<circle cx="131.91" cy="53.57" r="2.65" fill="#1e1e1e"/>
<circle cx="147.80" cy="54.36" r="2.65" fill="#1e1e1e"/>
<circle cx="163.68" cy="51.37" r="2.65" fill="#1e1e1e"/>
<circle cx="179.57" cy="51.37" r="2.65" fill="#1e1e1e"/>
<circle cx="195.46" cy="48.23" r="2.65" fill="#1e1e1e"/>
<circle cx="211.34" cy="51.37" r="2.65" fill="#1e1e1e"/>
<circle cx="227.23" cy="54.98" r="2.65" fill="#1e1e1e"/>
<circle cx="243.11" cy="46.04" r="2.65" fill="#1e1e1e"/>
<circle cx="259.00" cy="52.94" r="2.65" fill="#1e1e1e"/>
<circle cx="274.88" cy="52.63" r="2.65" fill="#1e1e1e"/>
<circle cx="290.77" cy="54.04" r="2.65" fill="#1e1e1e"/>
<circle cx="306.66" cy="49.02" r="2.65" fill="#1e1e1e"/>
<circle cx="322.54" cy="54.67" r="2.65" fill="#1e1e1e"/>
<polyline points="389.80,178.50 391.13,171.37 392.46,167.34 395.12,153.54 400.43,141.30 405.75,127.81 411.07,122.23 416.38,116.03 421.70,127.81 424.36,122.23 427.02,113.56 437.65,113.56 453.60,115.57 469.55,111.54 485.50,117.59 501.45,111.54 517.40,115.57 533.35,111.39 549.30,115.57 565.25,124.41 581.20,113.56 597.16,115.57 613.11,117.43 629.06,113.24 645.01,126.11 660.96,115.57 676.91,126.11" fill="none" stroke="#1e1e1e" stroke-width="1.4" stroke-linejoin="round"/>
<circle cx="389.80" cy="178.50" r="2.27" fill="#fff" stroke="#1e1e1e" stroke-width="0.95"/>
<circle cx="391.13" cy="171.37" r="2.27" fill="#fff" stroke="#1e1e1e" stroke-width="0.95"/>
<circle cx="392.46" cy="167.34" r="2.27" fill="#fff" stroke="#1e1e1e" stroke-width="0.95"/>
<circle cx="395.12" cy="153.54" r="2.27" fill="#fff" stroke="#1e1e1e" stroke-width="0.95"/>
<circle cx="400.43" cy="141.30" r="2.27" fill="#fff" stroke="#1e1e1e" stroke-width="0.95"/>
<circle cx="405.75" cy="127.81" r="2.27" fill="#fff" stroke="#1e1e1e" stroke-width="0.95"/>
<circle cx="411.07" cy="122.23" r="2.27" fill="#fff" stroke="#1e1e1e" stroke-width="0.95"/>
<circle cx="416.38" cy="116.03" r="2.27" fill="#fff" stroke="#1e1e1e" stroke-width="0.95"/>
<circle cx="421.70" cy="127.81" r="2.27" fill="#fff" stroke="#1e1e1e" stroke-width="0.95"/>
<circle cx="424.36" cy="122.23" r="2.27" fill="#fff" stroke="#1e1e1e" stroke-width="0.95"/>
<circle cx="427.02" cy="113.56" r="2.27" fill="#fff" stroke="#1e1e1e" stroke-width="0.95"/>
<circle cx="437.65" cy="113.56" r="2.27" fill="#fff" stroke="#1e1e1e" stroke-width="0.95"/>
<circle cx="453.60" cy="115.57" r="2.27" fill="#fff" stroke="#1e1e1e" stroke-width="0.95"/>
<circle cx="469.55" cy="111.54" r="2.27" fill="#fff" stroke="#1e1e1e" stroke-width="0.95"/>
<circle cx="485.50" cy="117.59" r="2.27" fill="#fff" stroke="#1e1e1e" stroke-width="0.95"/>
<circle cx="501.45" cy="111.54" r="2.27" fill="#fff" stroke="#1e1e1e" stroke-width="0.95"/>
<circle cx="517.40" cy="115.57" r="2.27" fill="#fff" stroke="#1e1e1e" stroke-width="0.95"/>
<circle cx="533.35" cy="111.39" r="2.27" fill="#fff" stroke="#1e1e1e" stroke-width="0.95"/>
<circle cx="549.30" cy="115.57" r="2.27" fill="#fff" stroke="#1e1e1e" stroke-width="0.95"/>
<circle cx="565.25" cy="124.41" r="2.27" fill="#fff" stroke="#1e1e1e" stroke-width="0.95"/>
<circle cx="581.20" cy="113.56" r="2.27" fill="#fff" stroke="#1e1e1e" stroke-width="0.95"/>
<circle cx="597.16" cy="115.57" r="2.27" fill="#fff" stroke="#1e1e1e" stroke-width="0.95"/>
<circle cx="613.11" cy="117.43" r="2.27" fill="#fff" stroke="#1e1e1e" stroke-width="0.95"/>
<circle cx="629.06" cy="113.24" r="2.27" fill="#fff" stroke="#1e1e1e" stroke-width="0.95"/>
<circle cx="645.01" cy="126.11" r="2.27" fill="#fff" stroke="#1e1e1e" stroke-width="0.95"/>
<circle cx="660.96" cy="115.57" r="2.27" fill="#fff" stroke="#1e1e1e" stroke-width="0.95"/>
<circle cx="676.91" cy="126.11" r="2.27" fill="#fff" stroke="#1e1e1e" stroke-width="0.95"/>
<polyline points="389.80,178.50 391.13,171.37 392.46,167.34 395.12,153.54 400.43,141.30 405.75,127.81 411.07,122.23 416.38,122.23 421.70,121.31 424.36,107.97 427.02,113.56 437.65,101.46 453.60,102.24 469.55,91.55 485.50,93.56 501.45,87.05 517.40,89.06 533.35,83.64 549.30,81.62 565.25,95.42 581.20,78.37 597.16,81.47 613.11,82.71 629.06,71.09 645.01,90.30 660.96,71.86 676.91,86.27" fill="none" stroke="#1e1e1e" stroke-width="1.05" stroke-dasharray="1 1.3"/>
<circle cx="389.80" cy="178.50" r="2.27" fill="#fff" stroke="#1e1e1e" stroke-width="0.95"/>
<circle cx="391.13" cy="171.37" r="2.27" fill="#fff" stroke="#1e1e1e" stroke-width="0.95"/>
<circle cx="392.46" cy="167.34" r="2.27" fill="#fff" stroke="#1e1e1e" stroke-width="0.95"/>
<circle cx="395.12" cy="153.54" r="2.27" fill="#fff" stroke="#1e1e1e" stroke-width="0.95"/>
<circle cx="400.43" cy="141.30" r="2.27" fill="#fff" stroke="#1e1e1e" stroke-width="0.95"/>
<circle cx="405.75" cy="127.81" r="2.27" fill="#fff" stroke="#1e1e1e" stroke-width="0.95"/>
<circle cx="411.07" cy="122.23" r="2.27" fill="#fff" stroke="#1e1e1e" stroke-width="0.95"/>
<circle cx="416.38" cy="122.23" r="2.27" fill="#fff" stroke="#1e1e1e" stroke-width="0.95"/>
<circle cx="421.70" cy="121.31" r="2.27" fill="#fff" stroke="#1e1e1e" stroke-width="0.95"/>
<circle cx="424.36" cy="107.97" r="2.27" fill="#fff" stroke="#1e1e1e" stroke-width="0.95"/>
<circle cx="427.02" cy="113.56" r="2.27" fill="#fff" stroke="#1e1e1e" stroke-width="0.95"/>
<circle cx="437.65" cy="101.46" r="2.27" fill="#fff" stroke="#1e1e1e" stroke-width="0.95"/>
<circle cx="453.60" cy="102.24" r="2.27" fill="#fff" stroke="#1e1e1e" stroke-width="0.95"/>
<circle cx="469.55" cy="91.55" r="2.27" fill="#fff" stroke="#1e1e1e" stroke-width="0.95"/>
<circle cx="485.50" cy="93.56" r="2.27" fill="#fff" stroke="#1e1e1e" stroke-width="0.95"/>
<circle cx="501.45" cy="87.05" r="2.27" fill="#fff" stroke="#1e1e1e" stroke-width="0.95"/>
<circle cx="517.40" cy="89.06" r="2.27" fill="#fff" stroke="#1e1e1e" stroke-width="0.95"/>
<circle cx="533.35" cy="83.64" r="2.27" fill="#fff" stroke="#1e1e1e" stroke-width="0.95"/>
<circle cx="549.30" cy="81.62" r="2.27" fill="#fff" stroke="#1e1e1e" stroke-width="0.95"/>
<circle cx="565.25" cy="95.42" r="2.27" fill="#fff" stroke="#1e1e1e" stroke-width="0.95"/>
<circle cx="581.20" cy="78.37" r="2.27" fill="#fff" stroke="#1e1e1e" stroke-width="0.95"/>
<circle cx="597.16" cy="81.47" r="2.27" fill="#fff" stroke="#1e1e1e" stroke-width="0.95"/>
<circle cx="613.11" cy="82.71" r="2.27" fill="#fff" stroke="#1e1e1e" stroke-width="0.95"/>
<circle cx="629.06" cy="71.09" r="2.27" fill="#fff" stroke="#1e1e1e" stroke-width="0.95"/>
<circle cx="645.01" cy="90.30" r="2.27" fill="#fff" stroke="#1e1e1e" stroke-width="0.95"/>
<circle cx="660.96" cy="71.86" r="2.27" fill="#fff" stroke="#1e1e1e" stroke-width="0.95"/>
<circle cx="676.91" cy="86.27" r="2.27" fill="#fff" stroke="#1e1e1e" stroke-width="0.95"/>
<polyline points="389.80,178.50 391.13,173.38 392.46,167.34 395.12,146.11 400.43,137.27 405.75,122.86 411.07,116.03 416.38,107.97 421.70,105.34 424.36,104.72 427.02,104.72 437.65,101.31 453.60,99.45 469.55,99.45 485.50,97.44 501.45,103.01 517.40,94.34 533.35,96.66 549.30,96.66 565.25,96.04 581.20,96.04 597.16,97.28 613.11,96.35 629.06,101.31 645.01,101.31 660.96,102.86 676.91,105.96" fill="none" stroke="#1e1e1e" stroke-width="1.4" stroke-linejoin="round"/>
<circle cx="389.80" cy="178.50" r="2.65" fill="#1e1e1e"/>
<circle cx="391.13" cy="173.38" r="2.65" fill="#1e1e1e"/>
<circle cx="392.46" cy="167.34" r="2.65" fill="#1e1e1e"/>
<circle cx="395.12" cy="146.11" r="2.65" fill="#1e1e1e"/>
<circle cx="400.43" cy="137.27" r="2.65" fill="#1e1e1e"/>
<circle cx="405.75" cy="122.86" r="2.65" fill="#1e1e1e"/>
<circle cx="411.07" cy="116.03" r="2.65" fill="#1e1e1e"/>
<circle cx="416.38" cy="107.97" r="2.65" fill="#1e1e1e"/>
<circle cx="421.70" cy="105.34" r="2.65" fill="#1e1e1e"/>
<circle cx="424.36" cy="104.72" r="2.65" fill="#1e1e1e"/>
<circle cx="427.02" cy="104.72" r="2.65" fill="#1e1e1e"/>
<circle cx="437.65" cy="101.31" r="2.65" fill="#1e1e1e"/>
<circle cx="453.60" cy="99.45" r="2.65" fill="#1e1e1e"/>
<circle cx="469.55" cy="99.45" r="2.65" fill="#1e1e1e"/>
<circle cx="485.50" cy="97.44" r="2.65" fill="#1e1e1e"/>
<circle cx="501.45" cy="103.01" r="2.65" fill="#1e1e1e"/>
<circle cx="517.40" cy="94.34" r="2.65" fill="#1e1e1e"/>
<circle cx="533.35" cy="96.66" r="2.65" fill="#1e1e1e"/>
<circle cx="549.30" cy="96.66" r="2.65" fill="#1e1e1e"/>
<circle cx="565.25" cy="96.04" r="2.65" fill="#1e1e1e"/>
<circle cx="581.20" cy="96.04" r="2.65" fill="#1e1e1e"/>
<circle cx="597.16" cy="97.28" r="2.65" fill="#1e1e1e"/>
<circle cx="613.11" cy="96.35" r="2.65" fill="#1e1e1e"/>
<circle cx="629.06" cy="101.31" r="2.65" fill="#1e1e1e"/>
<circle cx="645.01" cy="101.31" r="2.65" fill="#1e1e1e"/>
<circle cx="660.96" cy="102.86" r="2.65" fill="#1e1e1e"/>
<circle cx="676.91" cy="105.96" r="2.65" fill="#1e1e1e"/>
<polyline points="389.80,178.50 391.13,173.38 392.46,167.34 395.12,146.11 400.43,137.27 405.75,117.28 411.07,112.31 416.38,102.24 421.70,99.30 424.36,97.90 427.02,97.90 437.65,93.56 453.60,88.60 469.55,86.59 485.50,83.02 501.45,86.59 517.40,76.66 533.35,80.08 549.30,78.37 565.25,76.97 581.20,76.35 597.16,76.82 613.11,72.01 629.06,74.96 645.01,73.56 660.96,74.50 676.91,77.75" fill="none" stroke="#1e1e1e" stroke-width="1.05" stroke-dasharray="1 1.3"/>
<circle cx="389.80" cy="178.50" r="2.65" fill="#1e1e1e"/>
<circle cx="391.13" cy="173.38" r="2.65" fill="#1e1e1e"/>
<circle cx="392.46" cy="167.34" r="2.65" fill="#1e1e1e"/>
<circle cx="395.12" cy="146.11" r="2.65" fill="#1e1e1e"/>
<circle cx="400.43" cy="137.27" r="2.65" fill="#1e1e1e"/>
<circle cx="405.75" cy="117.28" r="2.65" fill="#1e1e1e"/>
<circle cx="411.07" cy="112.31" r="2.65" fill="#1e1e1e"/>
<circle cx="416.38" cy="102.24" r="2.65" fill="#1e1e1e"/>
<circle cx="421.70" cy="99.30" r="2.65" fill="#1e1e1e"/>
<circle cx="424.36" cy="97.90" r="2.65" fill="#1e1e1e"/>
<circle cx="427.02" cy="97.90" r="2.65" fill="#1e1e1e"/>
<circle cx="437.65" cy="93.56" r="2.65" fill="#1e1e1e"/>
<circle cx="453.60" cy="88.60" r="2.65" fill="#1e1e1e"/>
<circle cx="469.55" cy="86.59" r="2.65" fill="#1e1e1e"/>
<circle cx="485.50" cy="83.02" r="2.65" fill="#1e1e1e"/>
<circle cx="501.45" cy="86.59" r="2.65" fill="#1e1e1e"/>
<circle cx="517.40" cy="76.66" r="2.65" fill="#1e1e1e"/>
<circle cx="533.35" cy="80.08" r="2.65" fill="#1e1e1e"/>
<circle cx="549.30" cy="78.37" r="2.65" fill="#1e1e1e"/>
<circle cx="565.25" cy="76.97" r="2.65" fill="#1e1e1e"/>
<circle cx="581.20" cy="76.35" r="2.65" fill="#1e1e1e"/>
<circle cx="597.16" cy="76.82" r="2.65" fill="#1e1e1e"/>
<circle cx="613.11" cy="72.01" r="2.65" fill="#1e1e1e"/>
<circle cx="629.06" cy="74.96" r="2.65" fill="#1e1e1e"/>
<circle cx="645.01" cy="73.56" r="2.65" fill="#1e1e1e"/>
<circle cx="660.96" cy="74.50" r="2.65" fill="#1e1e1e"/>
<circle cx="676.91" cy="77.75" r="2.65" fill="#1e1e1e"/>
<polyline points="36.00,389.20 37.34,382.85 38.67,382.23 41.34,381.61 46.69,373.26 52.03,358.86 57.37,362.88 62.72,359.79 68.06,357.78 73.40,353.91 84.09,341.37 100.12,341.68 116.15,341.68 132.18,350.04 148.21,343.38 164.24,341.37 180.27,343.53 196.30,345.55 212.33,345.39 228.36,347.56 244.38,343.53 260.41,343.53 276.44,343.53 292.47,347.56 308.50,343.53 324.53,354.06" fill="none" stroke="#1e1e1e" stroke-width="1.4" stroke-linejoin="round"/>
<circle cx="36.00" cy="389.20" r="2.27" fill="#fff" stroke="#1e1e1e" stroke-width="0.95"/>
<circle cx="37.34" cy="382.85" r="2.27" fill="#fff" stroke="#1e1e1e" stroke-width="0.95"/>
<circle cx="38.67" cy="382.23" r="2.27" fill="#fff" stroke="#1e1e1e" stroke-width="0.95"/>
<circle cx="41.34" cy="381.61" r="2.27" fill="#fff" stroke="#1e1e1e" stroke-width="0.95"/>
<circle cx="46.69" cy="373.26" r="2.27" fill="#fff" stroke="#1e1e1e" stroke-width="0.95"/>
<circle cx="52.03" cy="358.86" r="2.27" fill="#fff" stroke="#1e1e1e" stroke-width="0.95"/>
<circle cx="57.37" cy="362.88" r="2.27" fill="#fff" stroke="#1e1e1e" stroke-width="0.95"/>
<circle cx="62.72" cy="359.79" r="2.27" fill="#fff" stroke="#1e1e1e" stroke-width="0.95"/>
<circle cx="68.06" cy="357.78" r="2.27" fill="#fff" stroke="#1e1e1e" stroke-width="0.95"/>
<circle cx="73.40" cy="353.91" r="2.27" fill="#fff" stroke="#1e1e1e" stroke-width="0.95"/>
<circle cx="84.09" cy="341.37" r="2.27" fill="#fff" stroke="#1e1e1e" stroke-width="0.95"/>
<circle cx="100.12" cy="341.68" r="2.27" fill="#fff" stroke="#1e1e1e" stroke-width="0.95"/>
<circle cx="116.15" cy="341.68" r="2.27" fill="#fff" stroke="#1e1e1e" stroke-width="0.95"/>
<circle cx="132.18" cy="350.04" r="2.27" fill="#fff" stroke="#1e1e1e" stroke-width="0.95"/>
<circle cx="148.21" cy="343.38" r="2.27" fill="#fff" stroke="#1e1e1e" stroke-width="0.95"/>
<circle cx="164.24" cy="341.37" r="2.27" fill="#fff" stroke="#1e1e1e" stroke-width="0.95"/>
<circle cx="180.27" cy="343.53" r="2.27" fill="#fff" stroke="#1e1e1e" stroke-width="0.95"/>
<circle cx="196.30" cy="345.55" r="2.27" fill="#fff" stroke="#1e1e1e" stroke-width="0.95"/>
<circle cx="212.33" cy="345.39" r="2.27" fill="#fff" stroke="#1e1e1e" stroke-width="0.95"/>
<circle cx="228.36" cy="347.56" r="2.27" fill="#fff" stroke="#1e1e1e" stroke-width="0.95"/>
<circle cx="244.38" cy="343.53" r="2.27" fill="#fff" stroke="#1e1e1e" stroke-width="0.95"/>
<circle cx="260.41" cy="343.53" r="2.27" fill="#fff" stroke="#1e1e1e" stroke-width="0.95"/>
<circle cx="276.44" cy="343.53" r="2.27" fill="#fff" stroke="#1e1e1e" stroke-width="0.95"/>
<circle cx="292.47" cy="347.56" r="2.27" fill="#fff" stroke="#1e1e1e" stroke-width="0.95"/>
<circle cx="308.50" cy="343.53" r="2.27" fill="#fff" stroke="#1e1e1e" stroke-width="0.95"/>
<circle cx="324.53" cy="354.06" r="2.27" fill="#fff" stroke="#1e1e1e" stroke-width="0.95"/>
<polyline points="36.00,389.20 37.34,382.85 38.67,382.23 41.34,381.61 46.69,373.26 52.03,358.86 57.37,362.88 62.72,356.85 68.06,353.44 70.73,353.75 73.40,349.73 84.09,331.92 100.12,330.84 116.15,326.97 132.18,334.40 148.21,326.04 164.24,319.39 180.27,323.56 196.30,322.02 212.33,321.55 228.36,324.96 244.38,318.61 260.41,317.06 276.44,313.97 292.47,319.39 308.50,311.95 324.53,326.51" fill="none" stroke="#1e1e1e" stroke-width="1.05" stroke-dasharray="1 1.3"/>
<circle cx="36.00" cy="389.20" r="2.27" fill="#fff" stroke="#1e1e1e" stroke-width="0.95"/>
<circle cx="37.34" cy="382.85" r="2.27" fill="#fff" stroke="#1e1e1e" stroke-width="0.95"/>
<circle cx="38.67" cy="382.23" r="2.27" fill="#fff" stroke="#1e1e1e" stroke-width="0.95"/>
<circle cx="41.34" cy="381.61" r="2.27" fill="#fff" stroke="#1e1e1e" stroke-width="0.95"/>
<circle cx="46.69" cy="373.26" r="2.27" fill="#fff" stroke="#1e1e1e" stroke-width="0.95"/>
<circle cx="52.03" cy="358.86" r="2.27" fill="#fff" stroke="#1e1e1e" stroke-width="0.95"/>
<circle cx="57.37" cy="362.88" r="2.27" fill="#fff" stroke="#1e1e1e" stroke-width="0.95"/>
<circle cx="62.72" cy="356.85" r="2.27" fill="#fff" stroke="#1e1e1e" stroke-width="0.95"/>
<circle cx="68.06" cy="353.44" r="2.27" fill="#fff" stroke="#1e1e1e" stroke-width="0.95"/>
<circle cx="70.73" cy="353.75" r="2.27" fill="#fff" stroke="#1e1e1e" stroke-width="0.95"/>
<circle cx="73.40" cy="349.73" r="2.27" fill="#fff" stroke="#1e1e1e" stroke-width="0.95"/>
<circle cx="84.09" cy="331.92" r="2.27" fill="#fff" stroke="#1e1e1e" stroke-width="0.95"/>
<circle cx="100.12" cy="330.84" r="2.27" fill="#fff" stroke="#1e1e1e" stroke-width="0.95"/>
<circle cx="116.15" cy="326.97" r="2.27" fill="#fff" stroke="#1e1e1e" stroke-width="0.95"/>
<circle cx="132.18" cy="334.40" r="2.27" fill="#fff" stroke="#1e1e1e" stroke-width="0.95"/>
<circle cx="148.21" cy="326.04" r="2.27" fill="#fff" stroke="#1e1e1e" stroke-width="0.95"/>
<circle cx="164.24" cy="319.39" r="2.27" fill="#fff" stroke="#1e1e1e" stroke-width="0.95"/>
<circle cx="180.27" cy="323.56" r="2.27" fill="#fff" stroke="#1e1e1e" stroke-width="0.95"/>
<circle cx="196.30" cy="322.02" r="2.27" fill="#fff" stroke="#1e1e1e" stroke-width="0.95"/>
<circle cx="212.33" cy="321.55" r="2.27" fill="#fff" stroke="#1e1e1e" stroke-width="0.95"/>
<circle cx="228.36" cy="324.96" r="2.27" fill="#fff" stroke="#1e1e1e" stroke-width="0.95"/>
<circle cx="244.38" cy="318.61" r="2.27" fill="#fff" stroke="#1e1e1e" stroke-width="0.95"/>
<circle cx="260.41" cy="317.06" r="2.27" fill="#fff" stroke="#1e1e1e" stroke-width="0.95"/>
<circle cx="276.44" cy="313.97" r="2.27" fill="#fff" stroke="#1e1e1e" stroke-width="0.95"/>
<circle cx="292.47" cy="319.39" r="2.27" fill="#fff" stroke="#1e1e1e" stroke-width="0.95"/>
<circle cx="308.50" cy="311.95" r="2.27" fill="#fff" stroke="#1e1e1e" stroke-width="0.95"/>
<circle cx="324.53" cy="326.51" r="2.27" fill="#fff" stroke="#1e1e1e" stroke-width="0.95"/>
<polyline points="36.00,389.20 37.34,387.03 38.67,384.56 41.34,378.05 46.69,367.37 52.03,358.86 57.37,359.32 60.04,350.35 62.72,342.45 68.06,345.39 70.73,339.97 73.40,339.97 84.09,341.06 100.12,336.57 116.15,333.63 132.18,331.92 148.21,331.61 164.24,331.00 180.27,334.40 196.30,331.00 212.33,327.43 228.36,329.60 244.38,328.36 260.41,327.43 276.44,331.92 292.47,325.58 308.50,325.58 324.53,328.67" fill="none" stroke="#1e1e1e" stroke-width="1.4" stroke-linejoin="round"/>
<circle cx="36.00" cy="389.20" r="2.65" fill="#1e1e1e"/>
<circle cx="37.34" cy="387.03" r="2.65" fill="#1e1e1e"/>
<circle cx="38.67" cy="384.56" r="2.65" fill="#1e1e1e"/>
<circle cx="41.34" cy="378.05" r="2.65" fill="#1e1e1e"/>
<circle cx="46.69" cy="367.37" r="2.65" fill="#1e1e1e"/>
<circle cx="52.03" cy="358.86" r="2.65" fill="#1e1e1e"/>
<circle cx="57.37" cy="359.32" r="2.65" fill="#1e1e1e"/>
<circle cx="60.04" cy="350.35" r="2.65" fill="#1e1e1e"/>
<circle cx="62.72" cy="342.45" r="2.65" fill="#1e1e1e"/>
<circle cx="68.06" cy="345.39" r="2.65" fill="#1e1e1e"/>
<circle cx="70.73" cy="339.97" r="2.65" fill="#1e1e1e"/>
<circle cx="73.40" cy="339.97" r="2.65" fill="#1e1e1e"/>
<circle cx="84.09" cy="341.06" r="2.65" fill="#1e1e1e"/>
<circle cx="100.12" cy="336.57" r="2.65" fill="#1e1e1e"/>
<circle cx="116.15" cy="333.63" r="2.65" fill="#1e1e1e"/>
<circle cx="132.18" cy="331.92" r="2.65" fill="#1e1e1e"/>
<circle cx="148.21" cy="331.61" r="2.65" fill="#1e1e1e"/>
<circle cx="164.24" cy="331.00" r="2.65" fill="#1e1e1e"/>
<circle cx="180.27" cy="334.40" r="2.65" fill="#1e1e1e"/>
<circle cx="196.30" cy="331.00" r="2.65" fill="#1e1e1e"/>
<circle cx="212.33" cy="327.43" r="2.65" fill="#1e1e1e"/>
<circle cx="228.36" cy="329.60" r="2.65" fill="#1e1e1e"/>
<circle cx="244.38" cy="328.36" r="2.65" fill="#1e1e1e"/>
<circle cx="260.41" cy="327.43" r="2.65" fill="#1e1e1e"/>
<circle cx="276.44" cy="331.92" r="2.65" fill="#1e1e1e"/>
<circle cx="292.47" cy="325.58" r="2.65" fill="#1e1e1e"/>
<circle cx="308.50" cy="325.58" r="2.65" fill="#1e1e1e"/>
<circle cx="324.53" cy="328.67" r="2.65" fill="#1e1e1e"/>
<polyline points="36.00,389.20 37.34,387.03 38.67,384.56 41.34,378.05 46.69,367.37 52.03,357.47 57.37,357.47 60.04,347.40 62.72,339.66 68.06,341.21 70.73,335.95 73.40,337.96 84.09,335.95 100.12,328.67 116.15,324.34 132.18,321.55 148.21,320.00 164.24,318.77 180.27,323.56 196.30,318.46 212.33,313.66 228.36,315.36 244.38,311.18 260.41,308.39 276.44,311.95 292.47,302.67 308.50,302.05 324.53,304.83" fill="none" stroke="#1e1e1e" stroke-width="1.05" stroke-dasharray="1 1.3"/>
<circle cx="36.00" cy="389.20" r="2.65" fill="#1e1e1e"/>
<circle cx="37.34" cy="387.03" r="2.65" fill="#1e1e1e"/>
<circle cx="38.67" cy="384.56" r="2.65" fill="#1e1e1e"/>
<circle cx="41.34" cy="378.05" r="2.65" fill="#1e1e1e"/>
<circle cx="46.69" cy="367.37" r="2.65" fill="#1e1e1e"/>
<circle cx="52.03" cy="357.47" r="2.65" fill="#1e1e1e"/>
<circle cx="57.37" cy="357.47" r="2.65" fill="#1e1e1e"/>
<circle cx="60.04" cy="347.40" r="2.65" fill="#1e1e1e"/>
<circle cx="62.72" cy="339.66" r="2.65" fill="#1e1e1e"/>
<circle cx="68.06" cy="341.21" r="2.65" fill="#1e1e1e"/>
<circle cx="70.73" cy="335.95" r="2.65" fill="#1e1e1e"/>
<circle cx="73.40" cy="337.96" r="2.65" fill="#1e1e1e"/>
<circle cx="84.09" cy="335.95" r="2.65" fill="#1e1e1e"/>
<circle cx="100.12" cy="328.67" r="2.65" fill="#1e1e1e"/>
<circle cx="116.15" cy="324.34" r="2.65" fill="#1e1e1e"/>
<circle cx="132.18" cy="321.55" r="2.65" fill="#1e1e1e"/>
<circle cx="148.21" cy="320.00" r="2.65" fill="#1e1e1e"/>
<circle cx="164.24" cy="318.77" r="2.65" fill="#1e1e1e"/>
<circle cx="180.27" cy="323.56" r="2.65" fill="#1e1e1e"/>
<circle cx="196.30" cy="318.46" r="2.65" fill="#1e1e1e"/>
<circle cx="212.33" cy="313.66" r="2.65" fill="#1e1e1e"/>
<circle cx="228.36" cy="315.36" r="2.65" fill="#1e1e1e"/>
<circle cx="244.38" cy="311.18" r="2.65" fill="#1e1e1e"/>
<circle cx="260.41" cy="308.39" r="2.65" fill="#1e1e1e"/>
<circle cx="276.44" cy="311.95" r="2.65" fill="#1e1e1e"/>
<circle cx="292.47" cy="302.67" r="2.65" fill="#1e1e1e"/>
<circle cx="308.50" cy="302.05" r="2.65" fill="#1e1e1e"/>
<circle cx="324.53" cy="304.83" r="2.65" fill="#1e1e1e"/>
<polyline points="389.30,258.91 390.64,279.55 391.97,286.00 394.64,291.16 399.98,294.26 405.32,299.16 410.67,302.77 416.01,305.87 421.35,307.16 426.69,307.16 437.37,310.51 453.40,309.48 469.42,311.03 485.45,308.96 501.47,311.03 517.50,309.48 533.52,309.74 549.55,311.54 565.57,308.96 581.60,310.51 597.62,310.51 613.65,309.22 629.67,309.74 645.70,307.93 661.72,309.99 677.75,309.99" fill="none" stroke="#1e1e1e" stroke-width="1.4" stroke-linejoin="round"/>
<circle cx="389.30" cy="258.91" r="2.27" fill="#fff" stroke="#1e1e1e" stroke-width="0.95"/>
<circle cx="390.64" cy="279.55" r="2.27" fill="#fff" stroke="#1e1e1e" stroke-width="0.95"/>
<circle cx="391.97" cy="286.00" r="2.27" fill="#fff" stroke="#1e1e1e" stroke-width="0.95"/>
<circle cx="394.64" cy="291.16" r="2.27" fill="#fff" stroke="#1e1e1e" stroke-width="0.95"/>
<circle cx="399.98" cy="294.26" r="2.27" fill="#fff" stroke="#1e1e1e" stroke-width="0.95"/>
<circle cx="405.32" cy="299.16" r="2.27" fill="#fff" stroke="#1e1e1e" stroke-width="0.95"/>
<circle cx="410.67" cy="302.77" r="2.27" fill="#fff" stroke="#1e1e1e" stroke-width="0.95"/>
<circle cx="416.01" cy="305.87" r="2.27" fill="#fff" stroke="#1e1e1e" stroke-width="0.95"/>
<circle cx="421.35" cy="307.16" r="2.27" fill="#fff" stroke="#1e1e1e" stroke-width="0.95"/>
<circle cx="426.69" cy="307.16" r="2.27" fill="#fff" stroke="#1e1e1e" stroke-width="0.95"/>
<circle cx="437.37" cy="310.51" r="2.27" fill="#fff" stroke="#1e1e1e" stroke-width="0.95"/>
<circle cx="453.40" cy="309.48" r="2.27" fill="#fff" stroke="#1e1e1e" stroke-width="0.95"/>
<circle cx="469.42" cy="311.03" r="2.27" fill="#fff" stroke="#1e1e1e" stroke-width="0.95"/>
<circle cx="485.45" cy="308.96" r="2.27" fill="#fff" stroke="#1e1e1e" stroke-width="0.95"/>
<circle cx="501.47" cy="311.03" r="2.27" fill="#fff" stroke="#1e1e1e" stroke-width="0.95"/>
<circle cx="517.50" cy="309.48" r="2.27" fill="#fff" stroke="#1e1e1e" stroke-width="0.95"/>
<circle cx="533.52" cy="309.74" r="2.27" fill="#fff" stroke="#1e1e1e" stroke-width="0.95"/>
<circle cx="549.55" cy="311.54" r="2.27" fill="#fff" stroke="#1e1e1e" stroke-width="0.95"/>
<circle cx="565.57" cy="308.96" r="2.27" fill="#fff" stroke="#1e1e1e" stroke-width="0.95"/>
<circle cx="581.60" cy="310.51" r="2.27" fill="#fff" stroke="#1e1e1e" stroke-width="0.95"/>
<circle cx="597.62" cy="310.51" r="2.27" fill="#fff" stroke="#1e1e1e" stroke-width="0.95"/>
<circle cx="613.65" cy="309.22" r="2.27" fill="#fff" stroke="#1e1e1e" stroke-width="0.95"/>
<circle cx="629.67" cy="309.74" r="2.27" fill="#fff" stroke="#1e1e1e" stroke-width="0.95"/>
<circle cx="645.70" cy="307.93" r="2.27" fill="#fff" stroke="#1e1e1e" stroke-width="0.95"/>
<circle cx="661.72" cy="309.99" r="2.27" fill="#fff" stroke="#1e1e1e" stroke-width="0.95"/>
<circle cx="677.75" cy="309.99" r="2.27" fill="#fff" stroke="#1e1e1e" stroke-width="0.95"/>
<polyline points="389.30,258.91 390.64,279.55 391.97,286.00 394.64,291.16 399.98,294.26 405.32,299.16 410.67,304.06 416.01,305.87 421.35,311.80 426.69,312.06 437.37,315.93 453.40,314.38 469.42,320.06 485.45,317.99 501.47,320.06 517.50,322.12 533.52,324.96 549.55,330.38 565.57,324.96 581.60,324.96 597.62,325.99 613.65,324.96 629.67,325.47 645.70,325.99 661.72,330.38 677.75,326.51" fill="none" stroke="#1e1e1e" stroke-width="1.05" stroke-dasharray="1 1.3"/>
<circle cx="389.30" cy="258.91" r="2.27" fill="#fff" stroke="#1e1e1e" stroke-width="0.95"/>
<circle cx="390.64" cy="279.55" r="2.27" fill="#fff" stroke="#1e1e1e" stroke-width="0.95"/>
<circle cx="391.97" cy="286.00" r="2.27" fill="#fff" stroke="#1e1e1e" stroke-width="0.95"/>
<circle cx="394.64" cy="291.16" r="2.27" fill="#fff" stroke="#1e1e1e" stroke-width="0.95"/>
<circle cx="399.98" cy="294.26" r="2.27" fill="#fff" stroke="#1e1e1e" stroke-width="0.95"/>
<circle cx="405.32" cy="299.16" r="2.27" fill="#fff" stroke="#1e1e1e" stroke-width="0.95"/>
<circle cx="410.67" cy="304.06" r="2.27" fill="#fff" stroke="#1e1e1e" stroke-width="0.95"/>
<circle cx="416.01" cy="305.87" r="2.27" fill="#fff" stroke="#1e1e1e" stroke-width="0.95"/>
<circle cx="421.35" cy="311.80" r="2.27" fill="#fff" stroke="#1e1e1e" stroke-width="0.95"/>
<circle cx="426.69" cy="312.06" r="2.27" fill="#fff" stroke="#1e1e1e" stroke-width="0.95"/>
<circle cx="437.37" cy="315.93" r="2.27" fill="#fff" stroke="#1e1e1e" stroke-width="0.95"/>
<circle cx="453.40" cy="314.38" r="2.27" fill="#fff" stroke="#1e1e1e" stroke-width="0.95"/>
<circle cx="469.42" cy="320.06" r="2.27" fill="#fff" stroke="#1e1e1e" stroke-width="0.95"/>
<circle cx="485.45" cy="317.99" r="2.27" fill="#fff" stroke="#1e1e1e" stroke-width="0.95"/>
<circle cx="501.47" cy="320.06" r="2.27" fill="#fff" stroke="#1e1e1e" stroke-width="0.95"/>
<circle cx="517.50" cy="322.12" r="2.27" fill="#fff" stroke="#1e1e1e" stroke-width="0.95"/>
<circle cx="533.52" cy="324.96" r="2.27" fill="#fff" stroke="#1e1e1e" stroke-width="0.95"/>
<circle cx="549.55" cy="330.38" r="2.27" fill="#fff" stroke="#1e1e1e" stroke-width="0.95"/>
<circle cx="565.57" cy="324.96" r="2.27" fill="#fff" stroke="#1e1e1e" stroke-width="0.95"/>
<circle cx="581.60" cy="324.96" r="2.27" fill="#fff" stroke="#1e1e1e" stroke-width="0.95"/>
<circle cx="597.62" cy="325.99" r="2.27" fill="#fff" stroke="#1e1e1e" stroke-width="0.95"/>
<circle cx="613.65" cy="324.96" r="2.27" fill="#fff" stroke="#1e1e1e" stroke-width="0.95"/>
<circle cx="629.67" cy="325.47" r="2.27" fill="#fff" stroke="#1e1e1e" stroke-width="0.95"/>
<circle cx="645.70" cy="325.99" r="2.27" fill="#fff" stroke="#1e1e1e" stroke-width="0.95"/>
<circle cx="661.72" cy="330.38" r="2.27" fill="#fff" stroke="#1e1e1e" stroke-width="0.95"/>
<circle cx="677.75" cy="326.51" r="2.27" fill="#fff" stroke="#1e1e1e" stroke-width="0.95"/>
<polyline points="389.30,261.49 390.64,280.84 391.97,286.00 394.64,294.51 399.98,298.64 405.32,303.80 410.67,302.77 416.01,311.80 421.35,313.86 426.69,315.67 437.37,316.44 453.40,317.48 469.42,320.57 485.45,321.35 501.47,321.09 517.50,322.12 533.52,322.64 549.55,321.86 565.57,322.38 581.60,322.89 597.62,321.60 613.65,322.38 629.67,322.89 645.70,323.93 661.72,323.93 677.75,323.41" fill="none" stroke="#1e1e1e" stroke-width="1.4" stroke-linejoin="round"/>
<circle cx="389.30" cy="261.49" r="2.65" fill="#1e1e1e"/>
<circle cx="390.64" cy="280.84" r="2.65" fill="#1e1e1e"/>
<circle cx="391.97" cy="286.00" r="2.65" fill="#1e1e1e"/>
<circle cx="394.64" cy="294.51" r="2.65" fill="#1e1e1e"/>
<circle cx="399.98" cy="298.64" r="2.65" fill="#1e1e1e"/>
<circle cx="405.32" cy="303.80" r="2.65" fill="#1e1e1e"/>
<circle cx="410.67" cy="302.77" r="2.65" fill="#1e1e1e"/>
<circle cx="416.01" cy="311.80" r="2.65" fill="#1e1e1e"/>
<circle cx="421.35" cy="313.86" r="2.65" fill="#1e1e1e"/>
<circle cx="426.69" cy="315.67" r="2.65" fill="#1e1e1e"/>
<circle cx="437.37" cy="316.44" r="2.65" fill="#1e1e1e"/>
<circle cx="453.40" cy="317.48" r="2.65" fill="#1e1e1e"/>
<circle cx="469.42" cy="320.57" r="2.65" fill="#1e1e1e"/>
<circle cx="485.45" cy="321.35" r="2.65" fill="#1e1e1e"/>
<circle cx="501.47" cy="321.09" r="2.65" fill="#1e1e1e"/>
<circle cx="517.50" cy="322.12" r="2.65" fill="#1e1e1e"/>
<circle cx="533.52" cy="322.64" r="2.65" fill="#1e1e1e"/>
<circle cx="549.55" cy="321.86" r="2.65" fill="#1e1e1e"/>
<circle cx="565.57" cy="322.38" r="2.65" fill="#1e1e1e"/>
<circle cx="581.60" cy="322.89" r="2.65" fill="#1e1e1e"/>
<circle cx="597.62" cy="321.60" r="2.65" fill="#1e1e1e"/>
<circle cx="613.65" cy="322.38" r="2.65" fill="#1e1e1e"/>
<circle cx="629.67" cy="322.89" r="2.65" fill="#1e1e1e"/>
<circle cx="645.70" cy="323.93" r="2.65" fill="#1e1e1e"/>
<circle cx="661.72" cy="323.93" r="2.65" fill="#1e1e1e"/>
<circle cx="677.75" cy="323.41" r="2.65" fill="#1e1e1e"/>
<polyline points="389.30,261.49 390.64,280.84 391.97,286.00 394.64,294.51 399.98,298.64 405.32,303.80 410.67,306.64 416.01,312.83 421.35,314.64 426.69,317.22 437.37,319.02 453.40,320.06 469.42,325.47 485.45,326.51 501.47,326.51 517.50,327.02 533.52,328.31 549.55,327.54 565.57,328.05 581.60,328.83 597.62,328.05 613.65,328.83 629.67,329.60 645.70,330.63 661.72,330.38 677.75,329.34" fill="none" stroke="#1e1e1e" stroke-width="1.05" stroke-dasharray="1 1.3"/>
<circle cx="389.30" cy="261.49" r="2.65" fill="#1e1e1e"/>
<circle cx="390.64" cy="280.84" r="2.65" fill="#1e1e1e"/>
<circle cx="391.97" cy="286.00" r="2.65" fill="#1e1e1e"/>
<circle cx="394.64" cy="294.51" r="2.65" fill="#1e1e1e"/>
<circle cx="399.98" cy="298.64" r="2.65" fill="#1e1e1e"/>
<circle cx="405.32" cy="303.80" r="2.65" fill="#1e1e1e"/>
<circle cx="410.67" cy="306.64" r="2.65" fill="#1e1e1e"/>
<circle cx="416.01" cy="312.83" r="2.65" fill="#1e1e1e"/>
<circle cx="421.35" cy="314.64" r="2.65" fill="#1e1e1e"/>
<circle cx="426.69" cy="317.22" r="2.65" fill="#1e1e1e"/>
<circle cx="437.37" cy="319.02" r="2.65" fill="#1e1e1e"/>
<circle cx="453.40" cy="320.06" r="2.65" fill="#1e1e1e"/>
<circle cx="469.42" cy="325.47" r="2.65" fill="#1e1e1e"/>
<circle cx="485.45" cy="326.51" r="2.65" fill="#1e1e1e"/>
<circle cx="501.47" cy="326.51" r="2.65" fill="#1e1e1e"/>
<circle cx="517.50" cy="327.02" r="2.65" fill="#1e1e1e"/>
<circle cx="533.52" cy="328.31" r="2.65" fill="#1e1e1e"/>
<circle cx="549.55" cy="327.54" r="2.65" fill="#1e1e1e"/>
<circle cx="565.57" cy="328.05" r="2.65" fill="#1e1e1e"/>
<circle cx="581.60" cy="328.83" r="2.65" fill="#1e1e1e"/>
<circle cx="597.62" cy="328.05" r="2.65" fill="#1e1e1e"/>
<circle cx="613.65" cy="328.83" r="2.65" fill="#1e1e1e"/>
<circle cx="629.67" cy="329.60" r="2.65" fill="#1e1e1e"/>
<circle cx="645.70" cy="330.63" r="2.65" fill="#1e1e1e"/>
<circle cx="661.72" cy="330.38" r="2.65" fill="#1e1e1e"/>
<circle cx="677.75" cy="329.34" r="2.65" fill="#1e1e1e"/>
<circle cx="389.30" cy="259.17" r="2.27" fill="#fff" stroke="#1e1e1e" stroke-width="0.95"/>
<line x1="164.00" y1="147.40" x2="178.40" y2="147.40" stroke="#1e1e1e" stroke-width="1.05" stroke-dasharray="1 1.3"/>
<circle cx="172.20" cy="147.40" r="2.27" fill="#fff" stroke="#1e1e1e" stroke-width="0.95"/>
<text x="181.70" y="150.00" font-size="7.1" text-anchor="start" font-weight="normal" fill="#000">DMARD− % of observed cases</text>
<line x1="164.00" y1="156.10" x2="178.40" y2="156.10" stroke="#1e1e1e" stroke-width="1.05" stroke-dasharray="1 1.3"/>
<circle cx="172.20" cy="156.10" r="2.65" fill="#1e1e1e"/>
<text x="181.70" y="158.70" font-size="7.1" text-anchor="start" font-weight="normal" fill="#000">DMARD+ % of observed cases</text>
<line x1="164.00" y1="164.60" x2="181.40" y2="164.60" stroke="#1e1e1e" stroke-width="1.45"/>
<circle cx="172.20" cy="164.60" r="2.27" fill="#fff" stroke="#1e1e1e" stroke-width="0.95"/>
<text x="181.70" y="167.20" font-size="7.1" text-anchor="start" font-weight="normal" fill="#000">DMARD− % of randomized patients (n=74)</text>
<line x1="164.00" y1="173.30" x2="181.40" y2="173.30" stroke="#1e1e1e" stroke-width="1.45"/>
<circle cx="172.20" cy="173.30" r="2.65" fill="#1e1e1e"/>
<text x="181.70" y="175.90" font-size="7.1" text-anchor="start" font-weight="normal" fill="#000">DMARD+ % of randomized patients (n=199)</text>
<line x1="518.80" y1="146.20" x2="533.20" y2="146.20" stroke="#1e1e1e" stroke-width="1.05" stroke-dasharray="1 1.3"/>
<circle cx="526.90" cy="146.20" r="2.27" fill="#fff" stroke="#1e1e1e" stroke-width="0.95"/>
<text x="536.40" y="148.80" font-size="7.1" text-anchor="start" font-weight="normal" fill="#000">DMARD− % of observed cases</text>
<line x1="518.80" y1="154.80" x2="533.20" y2="154.80" stroke="#1e1e1e" stroke-width="1.05" stroke-dasharray="1 1.3"/>
<circle cx="526.90" cy="154.80" r="2.65" fill="#1e1e1e"/>
<text x="536.40" y="157.40" font-size="7.1" text-anchor="start" font-weight="normal" fill="#000">DMARD+ % of observed cases</text>
<line x1="518.80" y1="163.20" x2="536.10" y2="163.20" stroke="#1e1e1e" stroke-width="1.45"/>
<circle cx="526.90" cy="163.20" r="2.27" fill="#fff" stroke="#1e1e1e" stroke-width="0.95"/>
<text x="536.40" y="165.80" font-size="7.1" text-anchor="start" font-weight="normal" fill="#000">DMARD− % of randomized patients (n=74)</text>
<line x1="518.80" y1="171.70" x2="536.10" y2="171.70" stroke="#1e1e1e" stroke-width="1.45"/>
<circle cx="526.90" cy="171.70" r="2.65" fill="#1e1e1e"/>
<text x="536.40" y="174.30" font-size="7.1" text-anchor="start" font-weight="normal" fill="#000">DMARD+ % of randomized patients (n=199)</text>
<line x1="166.10" y1="242.60" x2="181.60" y2="242.60" stroke="#1e1e1e" stroke-width="1.05" stroke-dasharray="1 1.3"/>
<circle cx="173.90" cy="242.60" r="2.27" fill="#fff" stroke="#1e1e1e" stroke-width="0.95"/>
<text x="183.40" y="245.20" font-size="7.1" text-anchor="start" font-weight="normal" fill="#000">DMARD− % of observed cases</text>
<line x1="166.10" y1="251.30" x2="181.60" y2="251.30" stroke="#1e1e1e" stroke-width="1.05" stroke-dasharray="1 1.3"/>
<circle cx="173.90" cy="251.30" r="2.65" fill="#1e1e1e"/>
<text x="183.40" y="253.90" font-size="7.1" text-anchor="start" font-weight="normal" fill="#000">DMARD+ % of observed cases</text>
<line x1="166.10" y1="259.80" x2="183.10" y2="259.80" stroke="#1e1e1e" stroke-width="1.45"/>
<circle cx="173.90" cy="259.80" r="2.27" fill="#fff" stroke="#1e1e1e" stroke-width="0.95"/>
<text x="183.40" y="262.40" font-size="7.1" text-anchor="start" font-weight="normal" fill="#000">DMARD− % of randomized patients (n=74)</text>
<line x1="166.10" y1="268.40" x2="183.10" y2="268.40" stroke="#1e1e1e" stroke-width="1.45"/>
<circle cx="173.90" cy="268.40" r="2.65" fill="#1e1e1e"/>
<text x="183.40" y="271.00" font-size="7.1" text-anchor="start" font-weight="normal" fill="#000">DMARD+ % of randomized patients (n=199)</text>
<line x1="581.40" y1="243.60" x2="596.50" y2="243.60" stroke="#1e1e1e" stroke-width="1.05" stroke-dasharray="1 1.3"/>
<circle cx="589.30" cy="243.60" r="2.27" fill="#fff" stroke="#1e1e1e" stroke-width="0.95"/>
<text x="597.70" y="246.20" font-size="7.1" text-anchor="start" font-weight="normal" fill="#000">DMARD− OC</text>
<line x1="581.40" y1="252.00" x2="596.50" y2="252.00" stroke="#1e1e1e" stroke-width="1.05" stroke-dasharray="1 1.3"/>
<circle cx="589.30" cy="252.00" r="2.65" fill="#1e1e1e"/>
<text x="597.70" y="254.60" font-size="7.1" text-anchor="start" font-weight="normal" fill="#000">DMARD+ OC</text>
<line x1="581.40" y1="260.30" x2="597.40" y2="260.30" stroke="#1e1e1e" stroke-width="1.45"/>
<circle cx="589.30" cy="260.30" r="2.27" fill="#fff" stroke="#1e1e1e" stroke-width="0.95"/>
<text x="597.70" y="262.90" font-size="7.1" text-anchor="start" font-weight="normal" fill="#000">DMARD− LOCF (n=74)</text>
<line x1="581.40" y1="268.20" x2="597.40" y2="268.20" stroke="#1e1e1e" stroke-width="1.45"/>
<circle cx="589.30" cy="268.20" r="2.65" fill="#1e1e1e"/>
<text x="597.70" y="270.80" font-size="7.1" text-anchor="start" font-weight="normal" fill="#000">DMARD+ LOCF (n=199)</text>
</svg>
</body></html>
